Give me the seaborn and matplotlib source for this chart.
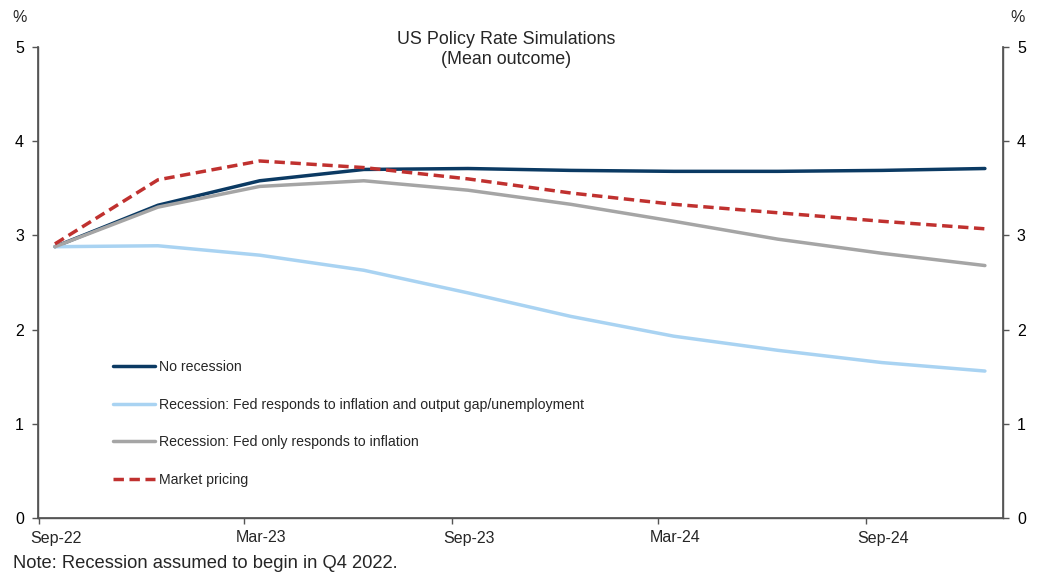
import matplotlib
matplotlib.use("Agg")
import matplotlib.pyplot as plt
import seaborn as sns
import pandas as pd

dates = pd.to_datetime(["2022-09-15", "2022-12-15", "2023-03-15", "2023-06-15", "2023-09-15",
                        "2023-12-15", "2024-03-15", "2024-06-15", "2024-09-15", "2024-12-15"])
no_recession = [2.88, 3.32, 3.58, 3.70, 3.71, 3.69, 3.68, 3.68, 3.69, 3.71]
recession_gap = [2.88, 2.89, 2.79, 2.63, 2.39, 2.14, 1.93, 1.78, 1.65, 1.56]
recession_infl = [2.88, 3.30, 3.52, 3.58, 3.48, 3.33, 3.15, 2.96, 2.81, 2.68]
market_pricing = [2.91, 3.59, 3.79, 3.72, 3.60, 3.45, 3.33, 3.24, 3.15, 3.07]

labels = ["No recession",
          "Recession: Fed responds to inflation and output gap/unemployment",
          "Recession: Fed only responds to inflation",
          "Market pricing"]
colors = ["#0B3A63", "#A9D3F2", "#A5A5A5", "#C0312F"]
dashes = [None, None, None, (3, 1.6)]
tick_dates = pd.to_datetime(["2022-09-01", "2023-03-01", "2023-09-01", "2024-03-01", "2024-09-01"])
label_dates = pd.to_datetime(["2022-09-16", "2023-03-16", "2023-09-16", "2024-03-16", "2024-09-16"])
tick_labels = ["Sep-22", "Mar-23", "Sep-23", "Mar-24", "Sep-24"]

sns.set_theme(style="white")
plt.rcParams['font.family'] = ['Liberation Sans', 'DejaVu Sans']

fig = plt.figure(figsize=(10.39, 5.76), dpi=100)
ax = fig.add_axes([38/1039, 1 - 518/576, (1003-38)/1039, (518-47)/576])

series = [no_recession, recession_gap, recession_infl, market_pricing]
for vals, lab, col, ds in zip(series, labels, colors, dashes):
    df = pd.DataFrame({"date": dates, "value": vals})
    sns.lineplot(data=df, x="date", y="value", ax=ax, color=col, linewidth=2.5, label=lab)
    if ds is not None:
        ax.lines[-1].set_dashes(ds)

ax.set_xlim(pd.Timestamp("2022-08-31"), pd.Timestamp("2024-12-31"))
ax.set_ylim(0, 5)
ax.set_xticks(tick_dates)
ax.set_xticklabels([])
ax.set_xticks(label_dates, minor=True)
ax.set_xticklabels(tick_labels, minor=True)
ax.set_yticks(range(0, 6))
ax.set_xlabel("")
ax.set_ylabel("")
ax.spines["top"].set_visible(False)
for s in ["left", "right", "bottom"]:
    ax.spines[s].set_color("#555555")
    ax.spines[s].set_linewidth(1.0)
ax.tick_params(axis="both", which="major", direction="out", length=4, width=1, color="#555555",
               labelsize=11.5, colors="#000000", left=True, bottom=True)
ax.tick_params(axis="x", which="minor", length=0, labelsize=11.5, pad=9, bottom=True)
ax.tick_params(axis="y", which="major", pad=6)

ax2 = ax.twinx()
ax2.set_ylim(0, 5)
ax2.set_yticks(range(0, 6))
ax2.spines["top"].set_visible(False)
for s in ["left", "right", "bottom"]:
    ax2.spines[s].set_color("#555555")
ax2.tick_params(axis="y", direction="out", length=4, width=1, color="#555555",
                labelsize=11.5, colors="#000000", right=True, pad=6)
ax2.grid(False)
ax.grid(False)

ax.legend(loc="upper left", bbox_to_anchor=((113-38)/965, (518-360)/471), frameon=False,
          fontsize=10.2, handlelength=2.95, labelspacing=1.67, handletextpad=0.3,
          borderpad=0, borderaxespad=0)

fig.text(506/1039, 1 - 39/576, "US Policy Rate Simulations", ha="center", va="center", fontsize=12.9)
fig.text(506/1039, 1 - 60/576, "(Mean outcome)", ha="center", va="center", fontsize=12.9)
fig.text(20/1039, 1 - 18/576, "%", ha="center", va="center", fontsize=11.5)
fig.text(1018/1039, 1 - 18/576, "%", ha="center", va="center", fontsize=11.5)
fig.text(13/1039, 1 - 563/576, "Note: Recession assumed to begin in Q4 2022.", ha="left", va="center", fontsize=13.2)

fig.savefig("out.png", dpi=100)
